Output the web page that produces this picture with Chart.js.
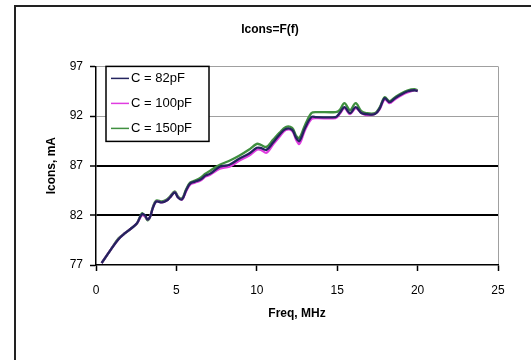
<!DOCTYPE html>
<html>
<head>
<meta charset="utf-8">
<script src="https://cdn.jsdelivr.net/npm/chart.js@4.4.1/dist/chart.umd.min.js"></script>
<style>
  html, body { margin: 0; padding: 0; background: #fff; }
</style>
</head>
<body>
<canvas id="myChart" width="531" height="360"></canvas>
<script>
const freq = [0.35, 0.9, 1.4, 1.8, 2.2, 2.55, 2.85, 3.05, 3.2, 3.35, 3.55, 3.75, 4.1, 4.4, 4.6, 4.9, 5.1, 5.35, 5.6, 5.85,
  6.15, 6.5, 6.8, 7.1, 7.7, 8.3, 8.9, 9.5, 10.0, 10.25, 10.6, 11.0, 11.4, 11.8, 12.2, 12.45, 12.65, 13.0, 13.4, 13.7,
  14.9, 15.15, 15.45, 15.8, 16.15, 16.5, 16.8, 17.35, 17.65, 17.95, 18.25, 18.6, 19.0, 19.4, 19.8, 20.0];

const icons82 = [77.2, 78.5, 79.6, 80.2, 80.7, 81.2, 82.1, 82.0, 81.6, 81.8, 82.8, 83.4, 83.3, 83.5, 83.8, 84.3, 83.8, 83.6, 84.5, 85.2,
  85.4, 85.6, 86.0, 86.2, 86.9, 87.1, 87.7, 88.2, 88.8, 88.8, 88.6, 89.3, 90.1, 90.7, 90.6, 89.8, 89.5, 90.8, 91.9, 91.9,
  91.9, 92.3, 92.9, 92.3, 92.9, 92.3, 92.2, 92.2, 92.8, 93.8, 93.4, 93.8, 94.2, 94.5, 94.6, 94.5];

const icons100 = [77.2, 78.5, 79.6, 80.2, 80.7, 81.2, 82.0, 81.9, 81.6, 81.8, 82.8, 83.4, 83.3, 83.5, 83.8, 84.3, 83.8, 83.6, 84.4, 85.1,
  85.3, 85.5, 85.9, 86.1, 86.7, 86.9, 87.5, 88.0, 88.6, 88.6, 88.3, 89.1, 89.9, 90.6, 90.5, 89.6, 89.2, 90.6, 91.7, 91.8,
  91.8, 92.2, 92.8, 92.2, 92.8, 92.3, 92.1, 92.2, 92.7, 93.7, 93.3, 93.7, 94.1, 94.4, 94.6, 94.5];

const icons150 = [77.2, 78.5, 79.7, 80.2, 80.7, 81.2, 82.2, 81.9, 81.5, 81.8, 82.9, 83.5, 83.4, 83.6, 83.9, 84.4, 83.9, 83.7, 84.6, 85.3,
  85.5, 85.8, 86.2, 86.5, 87.1, 87.5, 88.0, 88.6, 89.2, 89.1, 88.9, 89.6, 90.3, 90.9, 90.8, 90.0, 89.8, 91.1, 92.3, 92.4,
  92.4, 92.6, 93.3, 92.6, 93.3, 92.5, 92.3, 92.3, 92.9, 93.9, 93.5, 93.9, 94.3, 94.6, 94.7, 94.6];

const seriesLabels = ['C = 82pF', 'C = 100pF', 'C = 150pF'];
const seriesColors = ['#24245e', '#e03ce0', '#3f8f3f'];
const yTicks = [77, 82, 87, 92, 97];
const xTicks = [0, 5, 10, 15, 20, 25];

const FONT = '"Liberation Sans", Arial, sans-serif';

const toPoints = vals => freq.map((f, i) => ({ x: f, y: vals[i] }));

// outer frame + white background
const framePlugin = {
  id: 'frame',
  beforeDraw(chart) {
    const c = chart.ctx;
    c.save();
    c.fillStyle = '#fff';
    c.fillRect(0, 0, chart.width, chart.height);
    c.strokeStyle = '#222';
    c.lineWidth = 2;
    c.beginPath();
    c.moveTo(15, chart.height);
    c.lineTo(15, 6);
    c.lineTo(chart.width, 6);
    c.stroke();
    c.restore();
  }
};

// boxed legend inside the plot area (top-left)
const boxLegend = {
  id: 'boxLegend',
  afterDatasetsDraw(chart) {
    const c = chart.ctx;
    const a = chart.chartArea;
    const x0 = a.left + 10, y0 = a.top, w = 103, h = 75;
    c.save();
    c.fillStyle = '#fff';
    c.fillRect(x0, y0, w, h);
    c.strokeStyle = '#000';
    c.lineWidth = 1.5;
    c.strokeRect(x0, y0, w, h);
    c.font = '13px ' + FONT;
    c.textBaseline = 'middle';
    chart.data.datasets.forEach((ds, i) => {
      const y = y0 + 12 + i * 25;
      c.strokeStyle = ds.borderColor;
      c.lineWidth = 1.5;
      c.beginPath();
      c.moveTo(x0 + 5, y);
      c.lineTo(x0 + 23, y);
      c.stroke();
      c.fillStyle = '#000';
      c.fillText(ds.label, x0 + 25, y);
    });
    c.restore();
  }
};

const ctx = document.getElementById('myChart').getContext('2d');
const chart = new Chart(ctx, {
  type: 'line',
  data: {
    datasets: [
      { label: seriesLabels[0], data: toPoints(icons82), borderColor: seriesColors[0] },
      { label: seriesLabels[1], data: toPoints(icons100), borderColor: seriesColors[1] },
      { label: seriesLabels[2], data: toPoints(icons150), borderColor: seriesColors[2] }
    ]
  },
  options: {
    responsive: false,
    animation: false,
    layout: { padding: { left: 42, right: 33, top: 0, bottom: 0 } },
    elements: {
      point: { radius: 0 },
      line: { borderWidth: 2.3, tension: 0.35 }
    },
    plugins: {
      legend: { display: false },
      tooltip: { enabled: false },
      title: {
        display: true,
        text: 'Icons=F(f)',
        color: '#000',
        font: { family: FONT, size: 12, weight: 'bold' },
        padding: { top: 22, bottom: 30 }
      }
    },
    scales: {
      x: {
        type: 'linear',
        min: 0,
        max: 25,
        afterBuildTicks: s => { s.ticks = xTicks.map(v => ({ value: v })); },
        afterFit: s => { s.height = 95; },
        border: { color: '#000', width: 1.5 },
        grid: {
          drawOnChartArea: true,
          color: c => (c.tick && c.tick.value === 25 ? '#a0a0a0' : 'rgba(0,0,0,0)'),
          tickColor: '#000',
          tickLength: 6,
          tickWidth: 1.5
        },
        ticks: { color: '#000', padding: 12, font: { family: FONT, size: 12 } },
        title: {
          display: true,
          text: 'Freq, MHz',
          color: '#000',
          font: { family: FONT, size: 12, weight: 'bold' },
          padding: { top: 0, bottom: 39 }
        }
      },
      y: {
        min: 77,
        max: 97,
        afterBuildTicks: s => { s.ticks = yTicks.map(v => ({ value: v })); },
        afterFit: s => { s.width = 54; },
        border: { color: '#000', width: 1.5 },
        grid: {
          color: c => {
            const v = c.tick && c.tick.value;
            if (v === 82 || v === 87) return '#000';
            if (v === 92 || v === 97) return '#a0a0a0';
            return 'rgba(0,0,0,0)';
          },
          lineWidth: c => {
            const v = c.tick && c.tick.value;
            return (v === 82 || v === 87) ? 2 : 1;
          },
          tickColor: '#000',
          tickLength: 6,
          tickWidth: 1.5
        },
        ticks: { color: '#000', padding: 7, font: { family: FONT, size: 12 } },
        title: {
          display: true,
          text: 'Icons, mA',
          color: '#000',
          font: { family: FONT, size: 12, weight: 'bold' },
          padding: { top: 2, bottom: 0 }
        }
      }
    }
  },
  plugins: [framePlugin, boxLegend]
});
</script>
</body>
</html>
